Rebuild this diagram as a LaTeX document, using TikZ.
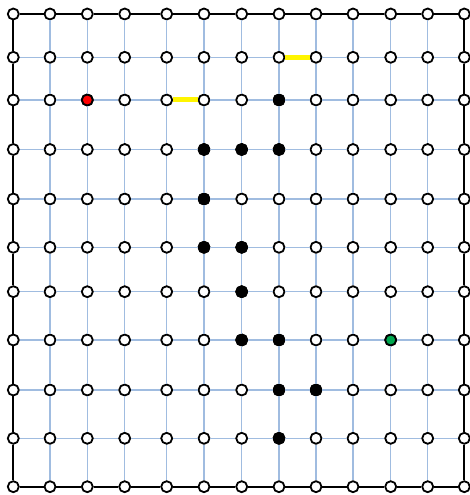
\documentclass[tikz,border=0pt]{standalone}
\definecolor{gridblue}{RGB}{160,188,224}
\definecolor{startred}{RGB}{255,0,0}
\definecolor{goalgreen}{RGB}{0,168,80}
\definecolor{pathyellow}{RGB}{255,245,0}
\tikzset{
  vtx/.style={circle,draw=black,line width=1.8pt,fill=white,minimum size=11pt,inner sep=0pt},
  wall/.style={vtx,fill=black},
  startv/.style={vtx,fill=startred},
  goalv/.style={vtx,fill=goalgreen},
  gridedge/.style={draw=gridblue,line width=1.2pt},
  borderedge/.style={draw=black,line width=2pt},
  hiedge/.style={draw=pathyellow,line width=5pt}
}
\begin{document}
\begin{tikzpicture}[x=1pt,y=1pt]
\useasboundingbox (0,0) rectangle (469,495);
\def\xs{13.3,50,87.3,124.7,166.7,204,241.7,279,316,353,390.7,427.7,464.3}
\def\ys{14,57.3,100,149.5,199,247.3,291.7,340,390,438.3,486.7}
% vertices
\foreach \x [count=\i from 0] in \xs {
  \foreach \y [count=\j from 0] in \ys {
    \node[vtx] (n-\i-\j) at (\x,{495-\y}) {};
  }
}
% special vertices (redrawn on top)
\foreach \i/\j in {7/2, 5/3, 6/3, 7/3, 5/4, 5/5, 6/5, 6/6, 6/7, 7/7, 7/8, 8/8, 7/9} {
  \node[wall] at (n-\i-\j) {};
}
\node[startv] (start) at (n-2-2) {};
\node[goalv] (goal) at (n-10-7) {};
% horizontal edges
\foreach \i in {0,...,11} {
  \pgfmathtruncatemacro{\k}{\i+1}
  \foreach \j in {1,...,9} {
    \draw[gridedge] (n-\i-\j) -- (n-\k-\j);
  }
  \draw[borderedge] (n-\i-0) -- (n-\k-0);
  \draw[borderedge] (n-\i-10) -- (n-\k-10);
}
% vertical edges
\foreach \j in {0,...,9} {
  \pgfmathtruncatemacro{\k}{\j+1}
  \foreach \i in {1,...,11} {
    \draw[gridedge] (n-\i-\j) -- (n-\i-\k);
  }
  \draw[borderedge] (n-0-\j) -- (n-0-\k);
  \draw[borderedge] (n-12-\j) -- (n-12-\k);
}
% highlighted edges
\draw[hiedge] (n-7-1) -- (n-8-1);
\draw[hiedge] (n-4-2) -- (n-5-2);
\end{tikzpicture}
\end{document}
